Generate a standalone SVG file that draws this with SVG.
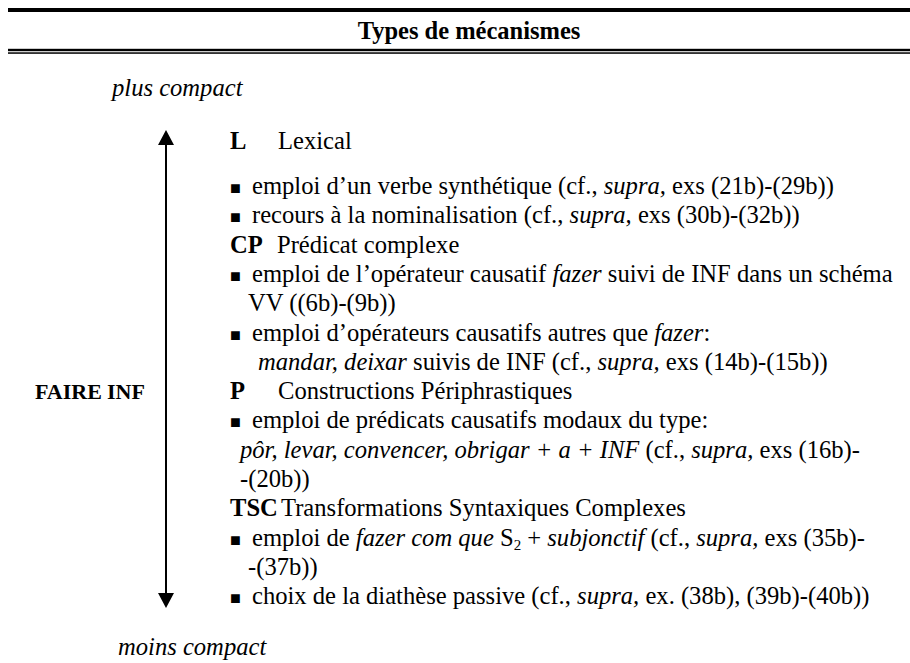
<svg xmlns="http://www.w3.org/2000/svg" width="910" height="663" viewBox="0 0 910 663">
<style>
text{font-family:"Liberation Serif","Times New Roman",serif;font-size:24.6px;fill:#000}
.b{font-weight:bold}
.i{font-style:italic}
.sq{font-size:18px}
</style>
<defs>
<marker id="ah" markerWidth="15" markerHeight="16" refX="0" refY="8" orient="auto-start-reverse" markerUnits="userSpaceOnUse" viewBox="0 0 15 16">
<path d="M0,0 L15,8 L0,16 Z" fill="#000"/>
</marker>
</defs>
<rect width="910" height="663" fill="#fff"/>
<g id="header">
<rect x="8" y="8" width="902" height="4" fill="#000"/>
<text class="b" x="469" y="39" text-anchor="middle" style="font-size:24.5px">Types de mécanismes</text>
<rect x="8" y="48.8" width="902" height="2.4" fill="#000"/>
<rect x="8" y="52.3" width="902" height="1.5" fill="#000"/>
</g>
<g id="connectors">
<line x1="166" y1="145" x2="166" y2="593" stroke="#000" stroke-width="2" marker-start="url(#ah)" marker-end="url(#ah)"/>
</g>
<g id="scale-labels">
<text class="i" x="112" y="96">plus compact</text>
<text class="i" x="118" y="655">moins compact</text>
<text class="b" x="35" y="399" style="font-size:22px">FAIRE<tspan x="107">INF</tspan></text>
</g>
<g id="L">
<text class="b" x="230" y="149">L</text>
<text x="278" y="149">Lexical</text>
<text y="194"><tspan class="sq" x="230">■</tspan><tspan x="252">emploi d’un verbe synthétique (cf., </tspan><tspan class="i">supra,</tspan> exs (21b)-(29b))</text>
<text y="223.3"><tspan class="sq" x="230">■</tspan><tspan x="252">recours à la nominalisation (cf., </tspan><tspan class="i">supra,</tspan> exs (30b)-(32b))</text>
</g>
<g id="CP">
<text class="b" x="230" y="252.6">CP</text>
<text x="277" y="252.6">Prédicat complexe</text>
<text y="281.9"><tspan class="sq" x="230">■</tspan><tspan x="252">emploi de l’opérateur causatif </tspan><tspan class="i">fazer</tspan> suivi de INF dans un schéma</text>
<text x="248" y="311.2">VV ((6b)-(9b))</text>
<text y="340.5"><tspan class="sq" x="230">■</tspan><tspan x="252">emploi d’opérateurs causatifs autres que </tspan><tspan class="i">fazer</tspan>:</text>
<text y="369.8"><tspan class="i" x="258">mandar, deixar</tspan> suivis de INF (cf., <tspan class="i">supra,</tspan> exs (14b)-(15b))</text>
</g>
<g id="P">
<text class="b" x="230" y="399.1">P</text>
<text x="278" y="399.1">Constructions Périphrastiques</text>
<text y="428.4"><tspan class="sq" x="230">■</tspan><tspan x="252">emploi de prédicats causatifs modaux du type:</tspan></text>
<text y="457.7"><tspan class="i" x="240">pôr, levar, convencer, obrigar + a + INF</tspan>  (cf., <tspan class="i">supra,</tspan> exs (16b)-</text>
<text x="240" y="487">-(20b))</text>
</g>
<g id="TSC">
<text class="b" x="230" y="516.3">TSC</text>
<text x="281" y="516.3">Transformations Syntaxiques Complexes</text>
<text y="545.6"><tspan class="sq" x="230">■</tspan><tspan x="252">emploi de </tspan><tspan class="i">fazer com que</tspan> S<tspan style="font-size:15px" dy="4">2</tspan><tspan dy="-4"> + </tspan><tspan class="i">subjonctif</tspan> (cf., <tspan class="i">supra,</tspan> exs (35b)-</text>
<text x="248" y="574.9">-(37b))</text>
<text y="604.2"><tspan class="sq" x="230">■</tspan><tspan x="252">choix de la diathèse passive (cf., </tspan><tspan class="i">supra,</tspan> ex. (38b), (39b)-(40b))</text>
</g>
</svg>
